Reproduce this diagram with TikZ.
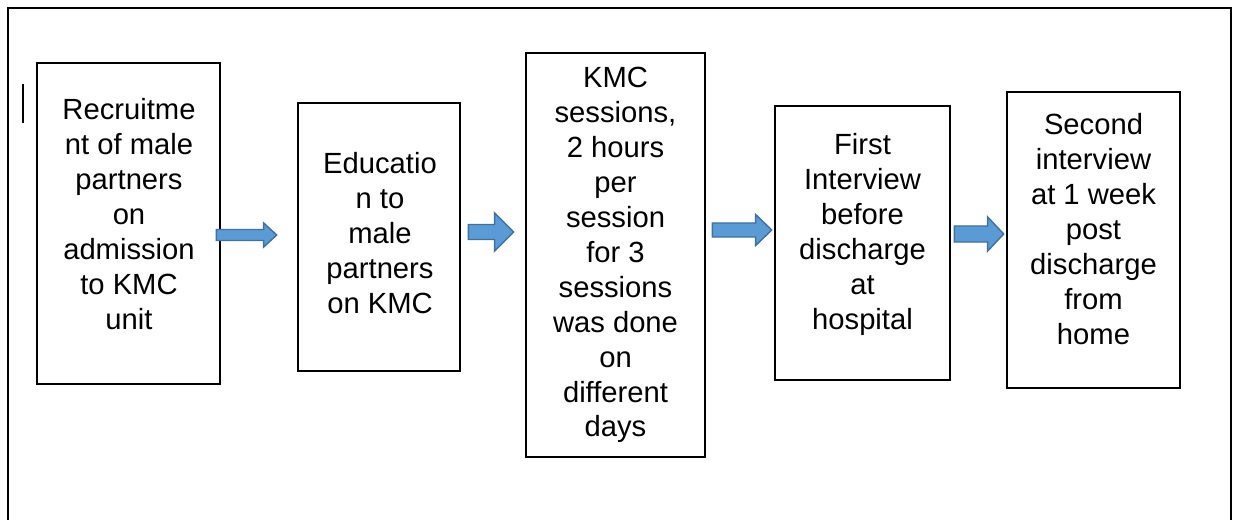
\documentclass[tikz,border=0pt]{standalone}
\usepackage{fontspec}
\setmainfont{Liberation Sans}
\usetikzlibrary{calc}
\definecolor{arrfill}{HTML}{5B9BD5}
\definecolor{arrline}{HTML}{41719C}
\def\u{0.75pt}
\tikzset{
  stepbox/.style={draw=black, line width=2pt, fill=white, rectangle, inner sep=0pt},
  steptext/.style={anchor=north, inner sep=0pt, align=center, font=\fontsize{21.9pt}{26.2pt}\selectfont},
  blockarrow/.style={fill=arrfill, draw=arrline, line width=1.1pt, line join=miter}
}
% #1 start, #2 tip, #3 shaft half height, #4 head half height, #5 head length
\newcommand{\barrow}[5]{%
  \draw[blockarrow] ($(#1)+(0,-#3)$) -- ($(#2)+(-#5,-#3)$) -- ($(#2)+(-#5,-#4)$) -- (#2)
    -- ($(#2)+(-#5,#4)$) -- ($(#2)+(-#5,#3)$) -- ($(#1)+(0,#3)$) -- cycle;}
\begin{document}
\begin{tikzpicture}[x=0.75pt, y=-0.75pt]
\useasboundingbox (0,0) rectangle (1237,520);
% outer frame (bottom edge lies below the page)
\draw[line width=2.1pt] (8,530) -- (8,8) -- (1231,8) -- (1231,530);
% text cursor mark
\draw[line width=1pt] (23,84) -- (23,123);
% boxes
\node[stepbox, minimum width=183*\u, minimum height=321*\u] (b1) at (128.5,223.5) {};
\node[stepbox, minimum width=162*\u, minimum height=268*\u] (b2) at (379,237) {};
\node[stepbox, minimum width=179*\u, minimum height=404*\u] (b3) at (615.5,255) {};
\node[stepbox, minimum width=175*\u, minimum height=274*\u] (b4) at (862.5,243) {};
\node[stepbox, minimum width=173*\u, minimum height=296*\u] (b5) at (1093.5,240) {};
% texts
\node[steptext] (t1) at (129,98) {Recruitme\\nt of male\\partners\\on\\admission\\to KMC\\unit};
\node[steptext] (t2) at (380,152) {Educatio\\n to\\male\\partners\\on KMC};
\node[steptext] (t3) at (615.5,67) {KMC\\sessions,\\2 hours\\per\\session\\for 3\\sessions\\was done\\on\\different\\days};
\node[steptext] (t4) at (862.5,133) {First\\Interview\\before\\discharge\\at\\hospital};
\node[steptext] (t5) at (1093.5,113) {Second\\interview\\at 1 week\\post\\discharge\\from\\home};
% connector end points
\coordinate (a1s) at ([xshift=-5*\u]b1.east |- 0,235);
\coordinate (a1e) at ([xshift=-20*\u]b2.west |- 0,235);
\coordinate (a2s) at ([xshift=7*\u]b2.east |- 0,232);
\coordinate (a2e) at ([xshift=-11*\u]b3.west |- 0,232);
\coordinate (a3s) at ([xshift=6*\u]b3.east |- 0,230);
\coordinate (a3e) at ([xshift=-2*\u]b4.west |- 0,230);
\coordinate (a4s) at ([xshift=3*\u]b4.east |- 0,234);
\coordinate (a4e) at ([xshift=-2*\u]b5.west |- 0,234);
% block arrows
\barrow{a1s}{a1e}{5.5}{12}{13}
\barrow{a2s}{a2e}{7.5}{19}{19}
\barrow{a3s}{a3e}{7}{15.5}{16}
\barrow{a4s}{a4e}{8}{17}{16}
\end{tikzpicture}
\end{document}
